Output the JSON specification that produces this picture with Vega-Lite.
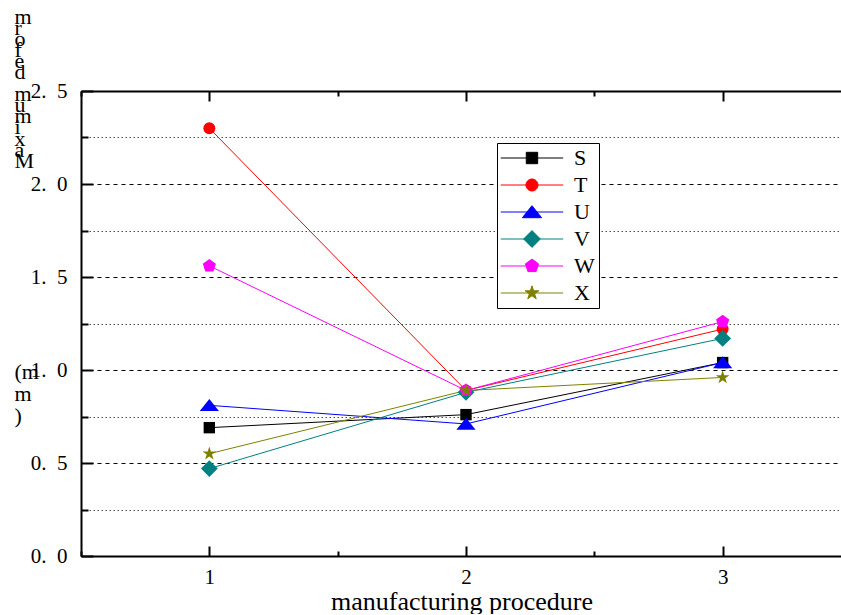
{
  "$schema": "https://vega.github.io/schema/vega-lite/v6.json",
  "width": 761,
  "height": 465,
  "padding": {"left": 14, "top": 5, "right": 0, "bottom": 0},
  "background": "white",
  "config": {"font": "Liberation Serif", "view": {"stroke": null}},
  "data": {
    "values": [
      {"p": 1, "s": "S", "v": 0.69}, {"p": 2, "s": "S", "v": 0.76}, {"p": 3, "s": "S", "v": 1.04},
      {"p": 1, "s": "T", "v": 2.30}, {"p": 2, "s": "T", "v": 0.89}, {"p": 3, "s": "T", "v": 1.22},
      {"p": 1, "s": "U", "v": 0.81}, {"p": 2, "s": "U", "v": 0.71}, {"p": 3, "s": "U", "v": 1.04},
      {"p": 1, "s": "V", "v": 0.47}, {"p": 2, "s": "V", "v": 0.88}, {"p": 3, "s": "V", "v": 1.17},
      {"p": 1, "s": "W", "v": 1.56}, {"p": 2, "s": "W", "v": 0.89}, {"p": 3, "s": "W", "v": 1.26},
      {"p": 1, "s": "X", "v": 0.55}, {"p": 2, "s": "X", "v": 0.89}, {"p": 3, "s": "X", "v": 0.96}
    ]
  },
  "resolve": {
    "scale": {"color": "independent", "shape": "independent", "stroke": "independent"},
    "axis": {"x": "independent"}
  },
  "encoding": {
    "y": {
      "field": "v", "type": "quantitative",
      "scale": {"domain": [0, 2.5], "nice": false, "zero": false},
      "axis": {
        "values": [0, 0.25, 0.5, 0.75, 1, 1.25, 1.5, 1.75, 2, 2.25, 2.5],
        "labelExpr": "(datum.value * 2) % 1 === 0 ? replace(format(datum.value, '.1f'), '.', '.\u00a0\u00a0') : ''",
        "labelOverlap": false,
        "labelBound": false,
        "labelFlush": false,
        "labelFont": "Liberation Serif",
        "labelFontSize": 21,
        "labelColor": "black",
        "labelPadding": 26,
        "grid": true,
        "gridColor": "black",
        "gridWidth": 1,
        "gridDash": {"condition": {"test": "(datum.value * 2) % 1 === 0", "value": [4, 4]}, "value": [1.5, 2.5]},
        "gridOpacity": {"condition": {"test": "(datum.value * 2) % 1 === 0", "value": 1}, "value": 0.7},
        "tickSize": {"condition": {"test": "(datum.value * 2) % 1 === 0", "value": -12}, "value": -7},
        "tickWidth": 2,
        "tickColor": "black",
        "domainColor": "black",
        "domainWidth": 2,
        "title": ["m", "r", "o", "f", "e", "d", "\u2800", "m", "u", "m", "i", "x", "a", "M", "\u2800", "\u2800", "\u2800", "\u2800", "\u2800", "\u2800", "\u2800", "\u2800", "\u2800", "\u2800", "\u2800", "\u2800", "\u2800", "\u2800", "\u2800", "\u2800", "\u2800", "\u2800", "(m", "\u2800", "m", "\u2800", ")"],
        "titleFont": "Liberation Serif",
        "titleFontSize": 22,
        "titleFontWeight": "normal",
        "titleColor": "black",
        "titleAngle": 0,
        "titleAlign": "left",
        "titleBaseline": "top",
        "titleLineHeight": 11.1,
        "titleX": -67,
        "titleY": -85
      }
    }
  },
  "layer": [
    {
      "mark": {"type": "line", "strokeWidth": 1},
      "encoding": {
        "x": {
          "field": "p", "type": "quantitative",
          "scale": {"domain": [0.5, 3.465], "nice": false, "zero": false},
          "axis": {
            "orient": "bottom",
            "values": [0.5, 1, 1.5, 2, 2.5, 3],
            "labelExpr": "datum.value % 1 === 0 ? format(datum.value, 'd') : ''",
            "labelOverlap": false,
            "labelBound": false,
            "labelFlush": false,
            "labelFont": "Liberation Serif",
            "labelFontSize": 21,
            "labelColor": "black",
            "labelPadding": 20,
            "grid": false,
            "tickSize": {"condition": {"test": "datum.value % 1 === 0", "value": -10}, "value": -5},
            "tickWidth": 2,
            "tickColor": "black",
            "domainColor": "black",
            "domainWidth": 2,
            "title": "manufacturing procedure",
            "titleFont": "Liberation Serif",
            "titleFontSize": 26,
            "titleFontWeight": "normal",
            "titleColor": "black",
            "titlePadding": -4
          }
        },
        "color": {
          "field": "s", "type": "nominal",
          "scale": {"domain": ["S", "T", "U", "V", "W", "X"], "range": ["#000000", "#FF0000", "#0000FF", "#008080", "#FF00FF", "#808000"]},
          "legend": null
        }
      }
    },
    {
      "mark": {"type": "point", "filled": true, "opacity": 1, "size": 144},
      "encoding": {
        "x": {
          "field": "p", "type": "quantitative",
          "scale": {"domain": [0.5, 3.465], "nice": false, "zero": false},
          "axis": {
            "orient": "top",
            "values": [0.5, 1, 1.5, 2, 2.5, 3],
            "labels": false,
            "title": null,
            "grid": false,
            "tickSize": {"condition": {"test": "datum.value % 1 === 0", "value": -10}, "value": -5},
            "tickWidth": 2,
            "tickColor": "black",
            "domainColor": "black",
            "domainWidth": 2
          }
        },
        "color": {
          "field": "s", "type": "nominal",
          "scale": {"domain": ["S", "T", "U", "V", "W", "X"], "range": ["#000000", "#FF0000", "#0000FF", "#008080", "#FF00FF", "#808000"]},
          "legend": null
        },
        "shape": {
          "field": "s", "type": "nominal",
          "scale": {
            "domain": ["S", "T", "U", "V", "W", "X"],
            "range": [
              "M-0.95,-0.95L0.95,-0.95L0.95,0.95L-0.95,0.95Z",
              "circle",
              "M0,-1.05L1.6,0.95L-1.6,0.95Z",
              "M0,-1.4L1.4,0L0,1.4L-1.4,0Z",
              "M0,-1.15L1.094,-0.355L0.676,0.93L-0.676,0.93L-1.094,-0.355Z",
              "M0,-1.2L0.27,-0.372L1.141,-0.371L0.437,0.142L0.705,0.971L0,0.46L-0.705,0.971L-0.437,0.142L-1.141,-0.371L-0.27,-0.372Z"
            ]
          },
          "legend": null
        }
      }
    },
    {
      "transform": [{"filter": "false"}],
      "mark": {"type": "point", "filled": true, "opacity": 1, "size": 144, "strokeWidth": 1},
      "encoding": {
        "x": {"field": "p", "type": "quantitative", "axis": null},
        "color": {
          "field": "s", "type": "nominal",
          "scale": {"domain": ["S", "T", "U", "V", "W", "X"], "range": ["#000000", "#FF0000", "#0000FF", "#008080", "#FF00FF", "#808000"]},
          "legend": {
            "orient": "none",
            "legendX": 416,
            "legendY": 52,
            "title": null,
            "padding": 4,
            "strokeColor": "black",
            "fillColor": "white",
            "labelFont": "Liberation Serif",
            "labelFontSize": 22,
            "labelColor": "black",
            "labelOffset": 51,
            "rowPadding": 5,
            "symbolSize": 144,
            "symbolStrokeWidth": 1,
            "symbolOpacity": 1
          }
        },
        "stroke": {
          "field": "s", "type": "nominal",
          "scale": {"domain": ["S", "T", "U", "V", "W", "X"], "range": ["#000000", "#FF0000", "#0000FF", "#008080", "#FF00FF", "#808000"]}
        },
        "shape": {
          "field": "s", "type": "nominal",
          "scale": {
            "domain": ["S", "T", "U", "V", "W", "X"],
            "range": [
              "M-1.87,0L8.53,0M2.38,-0.95L4.28,-0.95L4.28,0.95L2.38,0.95Z",
              "M-1.87,0L8.53,0M2.33,0A1,1,0,1,1,4.33,0A1,1,0,1,1,2.33,0Z",
              "M-1.87,0L8.53,0M3.33,-1.05L4.93,0.95L1.73,0.95Z",
              "M-1.87,0L8.53,0M3.33,-1.4L4.73,0L3.33,1.4L1.93,0Z",
              "M-1.87,0L8.53,0M3.33,-1.15L4.424,-0.355L4.006,0.93L2.654,0.93L2.236,-0.355Z",
              "M-1.87,0L8.53,0M3.33,-1.2L3.6,-0.372L4.471,-0.371L3.767,0.142L4.035,0.971L3.33,0.46L2.625,0.971L2.893,0.142L2.189,-0.371L3.06,-0.372Z"
            ]
          }
        }
      }
    }
  ]
}
